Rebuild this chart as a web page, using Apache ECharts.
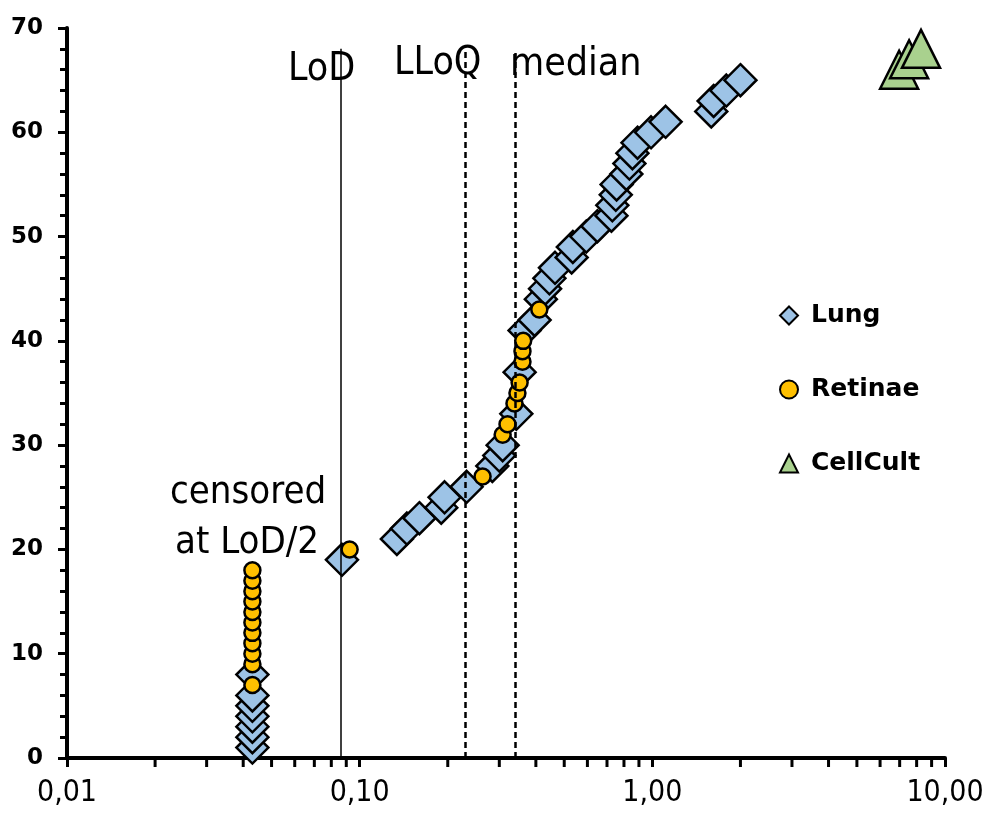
<!DOCTYPE html>
<html>
<head>
<meta charset="utf-8">
<script src="https://cdn.jsdelivr.net/npm/echarts@6/dist/echarts.min.js"></script>
<style>
  html, body { margin: 0; background: #fff; }
  #chart { width: 987px; height: 818px; }
</style>
</head>
<body>
<div id="chart"></div>
<script>
// rank (y) and concentration (x) of each sample
var lungY = [1, 2, 3, 4, 5, 6, 8, 19, 21, 22, 23, 24, 25, 26, 28, 29, 30, 33, 37, 41, 42,
  44, 45, 46, 47, 48, 49, 50, 51, 52, 53, 54, 55, 56, 57, 58, 59, 60, 61, 62, 63, 64, 65];
var lungX = [0.043, 0.043, 0.043, 0.043, 0.043, 0.043, 0.043, 0.087, 0.134, 0.145, 0.16, 0.19, 0.195, 0.232,
  0.284, 0.3, 0.308, 0.343, 0.352, 0.366, 0.396,
  0.416, 0.43, 0.445, 0.465, 0.53, 0.535, 0.595, 0.649, 0.725, 0.73, 0.75, 0.755,
  0.815, 0.835, 0.855, 0.89, 0.99, 1.11, 1.59, 1.62, 1.79, 2.0];

var retinaeY = [7, 9, 10, 11, 12, 13, 14, 15, 16, 17, 18, 20, 27, 31, 32, 34, 35, 36, 38, 39, 40, 43];
var retinaeX = [0.043, 0.043, 0.043, 0.043, 0.043, 0.043, 0.043, 0.043, 0.043, 0.043, 0.043,
  0.0924, 0.263, 0.308, 0.32, 0.338, 0.346, 0.352, 0.36, 0.36, 0.362, 0.411];

var cellY = [66, 67, 68];
var cellX = [6.97, 7.54, 8.28];

var refLines = [
  { name: 'LoD', x: 0.086, top: 68, dashed: false },
  { name: 'LLoQ', x: 0.23, top: 67.9, dashed: true },
  { name: 'median', x: 0.34, top: 67.6, dashed: true }
];

var xMinor = [0.02, 0.03, 0.04, 0.05, 0.06, 0.07, 0.08, 0.09,
  0.2, 0.3, 0.4, 0.5, 0.6, 0.7, 0.8, 0.9,
  2, 3, 4, 5, 6, 7, 8, 9];

function zip(xs, ys) {
  var out = [];
  for (var i = 0; i < xs.length; i++) out.push([xs[i], ys[i]]);
  return out;
}

var narrow = "'Liberation Sans Narrow', 'DejaVu Sans Condensed', 'Liberation Sans', sans-serif";

var chart = echarts.init(document.getElementById('chart'));

var option = {
  animation: false,
  grid: { left: 67, right: 42, top: 28, bottom: 60 },
  legend: {
    orient: 'vertical',
    left: 774,
    top: 298,
    itemGap: 49,
    itemWidth: 18,
    itemHeight: 18,
    data: ['Lung', 'Retinae', 'CellCult'],
    textStyle: {
      fontFamily: 'DejaVu Sans', fontWeight: 'bold', fontSize: 25, color: '#000',
      padding: [0, 0, 0, 8]
    }
  },
  xAxis: {
    type: 'log',
    logBase: 10,
    min: 0.01,
    max: 10,
    splitLine: { show: false },
    axisLine: { lineStyle: { color: '#000', width: 4 } },
    axisTick: { inside: false, length: 9, lineStyle: { color: '#000', width: 3 } },
    axisLabel: {
      margin: 20,
      fontFamily: narrow, fontSize: 30, color: '#000',
      formatter: function (v) { return v.toFixed(2).replace('.', ','); }
    }
  },
  yAxis: {
    type: 'value',
    min: 0,
    max: 70,
    interval: 10,
    splitLine: { show: false },
    axisLine: { show: true, lineStyle: { color: '#000', width: 4 } },
    axisTick: { show: true, length: 9, lineStyle: { color: '#000', width: 3 } },
    minorTick: { show: true, splitNumber: 5, length: 7, lineStyle: { color: '#000', width: 3 } },
    axisLabel: {
      margin: 24,
      fontFamily: 'DejaVu Sans', fontWeight: 'bold', fontSize: 23, color: '#000'
    }
  },
  series: [
    {
      // reference lines, behind the points
      type: 'scatter',
      data: [],
      z: 1,
      markLine: {
        silent: true,
        symbol: 'none',
        label: { show: false },
        data: refLines.map(function (r) {
          return [
            { coord: [r.x, 0], lineStyle: { color: '#000', width: r.dashed ? 2.5 : 1.5, type: r.dashed ? [6, 4] : 'solid' } },
            { coord: [r.x, r.top] }
          ];
        })
      }
    },
    {
      type: 'custom',
      silent: true,
      z: 3,
      clip: false,
      data: xMinor.map(function (v) { return [v, 0]; }),
      renderItem: function (params, api) {
        var p = api.coord([api.value(0), 0]);
        return {
          type: 'line',
          shape: { x1: p[0], y1: p[1], x2: p[0], y2: p[1] + 9 },
          style: { stroke: '#000', lineWidth: 3 }
        };
      }
    },
    {
      name: 'Lung',
      type: 'scatter',
      z: 2,
      symbol: 'diamond',
      symbolSize: 32,
      itemStyle: { color: '#9DC3E6', borderColor: '#000', borderWidth: 2.5, opacity: 1 },
      data: zip(lungX, lungY)
    },
    {
      name: 'Retinae',
      type: 'scatter',
      z: 2,
      symbol: 'circle',
      symbolSize: 16,
      itemStyle: { color: '#FFC000', borderColor: '#000', borderWidth: 2.5, opacity: 1 },
      data: zip(retinaeX, retinaeY)
    },
    {
      name: 'CellCult',
      type: 'scatter',
      z: 2,
      symbol: 'triangle',
      symbolSize: [38, 38],
      itemStyle: { color: '#A9D18E', borderColor: '#000', borderWidth: 2.5, opacity: 1 },
      data: zip(cellX, cellY)
    }
  ],
  graphic: [
    { type: 'text', left: 288, top: 50, style: { text: 'LoD', font: '39px ' + narrow, fill: '#000' } },
    { type: 'text', left: 394, top: 44, style: { text: 'LLoQ', font: '39px ' + narrow, fill: '#000' } },
    { type: 'text', left: 510, top: 45, style: { text: 'median', font: '39px ' + narrow, fill: '#000' } },
    { type: 'text', left: 170, top: 474, style: { text: 'censored', font: '38px ' + narrow, fill: '#000' } },
    { type: 'text', left: 175, top: 524, style: { text: 'at LoD/2', font: '38px ' + narrow, fill: '#000' } }
  ]
};

chart.setOption(option);
</script>
</body>
</html>
